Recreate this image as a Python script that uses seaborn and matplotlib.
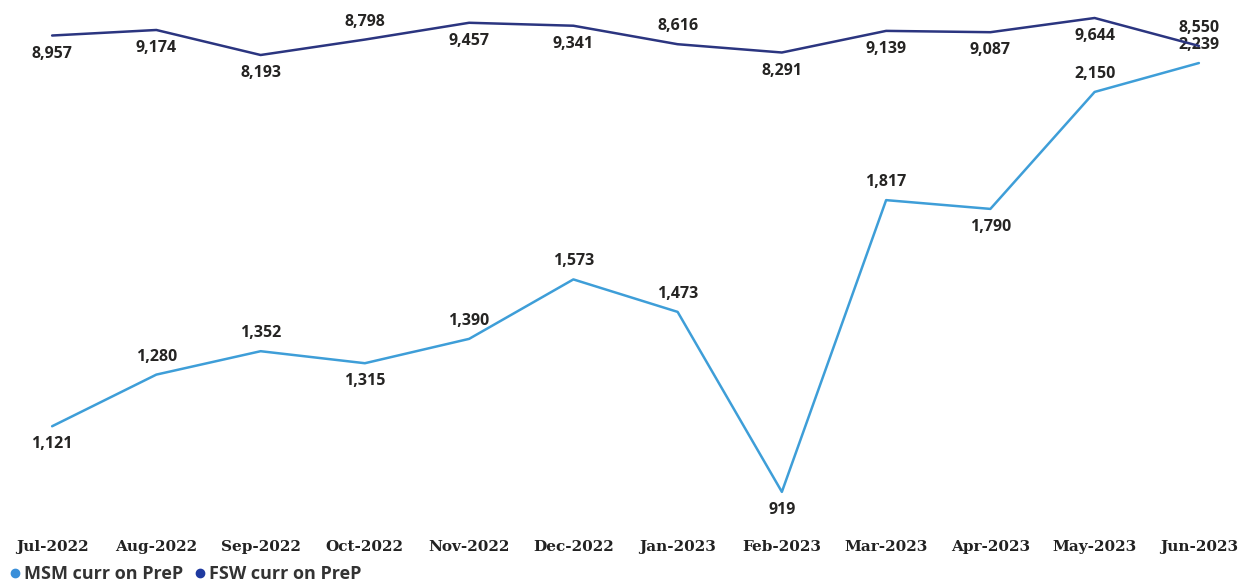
import matplotlib
matplotlib.use("Agg")
import matplotlib.pyplot as plt
from matplotlib.lines import Line2D
import seaborn as sns
import pandas as pd

# Monthly PrEP counts
months = ["Jul-2022", "Aug-2022", "Sep-2022", "Oct-2022", "Nov-2022", "Dec-2022",
          "Jan-2023", "Feb-2023", "Mar-2023", "Apr-2023", "May-2023", "Jun-2023"]
msm_values = [1121, 1280, 1352, 1315, 1390, 1573, 1473, 919, 1817, 1790, 2150, 2239]
fsw_values = [8957, 9174, 8193, 8798, 9457, 9341, 8616, 8291, 9139, 9087, 9644, 8550]
series_names = ["MSM curr on PreP", "FSW curr on PreP"]

# label side per point: +1 above the line, -1 below
msm_label_side = [-1, 1, 1, -1, 1, 1, 1, -1, 1, -1, 1, 1]
fsw_label_side = [-1, -1, -1, 1, -1, -1, 1, -1, -1, -1, -1, 1]

MSM_COLOR = "#3E9ED8"
FSW_COLOR = "#2B3580"
TEXT_COLOR = "#252423"

sns.set_theme(style="white")
plt.rcParams["font.family"] = ["Open Sans", "DejaVu Sans"]

df = pd.DataFrame({"month": months, "pos": range(len(months)),
                   "msm": msm_values, "fsw": fsw_values})

fig = plt.figure(figsize=(12.51, 5.83), dpi=100)
ax = fig.add_axes([0.0, 83 / 583, 1.0, 500 / 583])
ax2 = ax.twinx()

sns.lineplot(data=df, x="pos", y="msm", ax=ax, color=MSM_COLOR, linewidth=1.8)
sns.lineplot(data=df, x="pos", y="fsw", ax=ax2, color=FSW_COLOR, linewidth=1.8)

ax.set_xlim(-0.5, len(months) - 0.5)
ax.set_ylim(894, 2433)
ax2.set_ylim(-9258, 10350)

for a in (ax, ax2):
    a.set_ylabel("")
    a.set_yticks([])
    for s in a.spines.values():
        s.set_visible(False)
    a.grid(False)

ax.set_xlabel("")
ax.set_xticks(list(df["pos"]))
ax.set_xticklabels(months, family=["DejaVu Serif"], fontweight="bold",
                   fontsize=11, color="#222222")
ax.tick_params(axis="x", length=0, pad=29)

def label_points(axis, values, sides):
    for i, (v, side) in enumerate(zip(values, sides)):
        axis.annotate(f"{v:,}", (i, v), xytext=(0, 13 * side),
                      textcoords="offset points", ha="center", va="center",
                      fontsize=11.5, fontweight="bold", color=TEXT_COLOR)

label_points(ax, msm_values, msm_label_side)
label_points(ax2, fsw_values, fsw_label_side)

handles = [Line2D([], [], marker="o", linestyle="none", markersize=6,
                  color=c) for c in ("#3A8FD9", "#1F3AA0")]
fig.legend(handles, series_names, loc="center left",
           bbox_to_anchor=(0.005, 1 - 574 / 583), ncol=2, frameon=False,
           handletextpad=0.0, columnspacing=0.4, handlelength=1.0,
           borderaxespad=0.0, borderpad=0.0,
           prop={"size": 13, "weight": "bold"}, labelcolor="#333333")

fig.savefig("out.png", dpi=100, facecolor="white")
